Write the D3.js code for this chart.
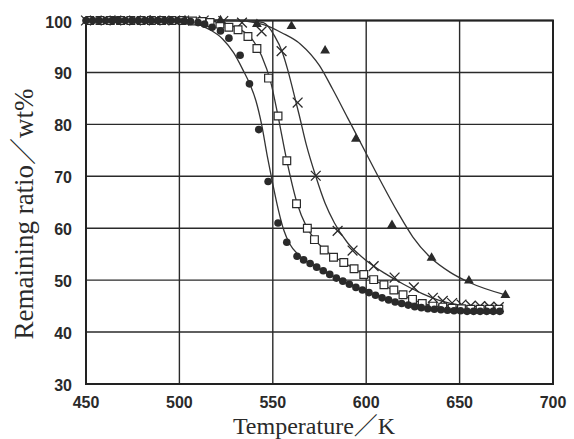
<!DOCTYPE html>
<html>
<head>
<meta charset="utf-8">
<script src="https://cdn.jsdelivr.net/npm/d3@7"></script>
<style>
  body { margin: 0; background: #fff; }
  .grid-line { stroke: #2a2a2a; stroke-width: 1.4; }
  .frame { fill: none; stroke: #222; stroke-width: 2; }
  .tick-label { font-family: "Liberation Sans", Arial, sans-serif; font-size: 16px; font-weight: bold; fill: #2a2a2a; }
  .title { font-family: "Liberation Serif", "Times New Roman", "Noto Sans CJK JP", serif; font-size: 27px; fill: #2a2a2a; }
  .curve { fill: none; stroke: #333; stroke-width: 1.3; }
</style>
</head>
<body>
<div class="app"></div>
<script>
'use strict'

var width = 574;
var height = 439;

// tick labels
var xTicks = [450, 500, 550, 600, 650, 700];
var yTicks = [30, 40, 50, 60, 70, 80, 90, 100];

// measured points (temperature K, remaining wt%)
var circleT = [450, 453.5, 457, 460.5, 464, 467.5, 471, 474.5, 478, 481.5, 485, 488.5, 492, 495.5, 499, 502.5, 506, 510, 513.5,
  517.5, 522, 526.5, 532.5, 537.5, 542.5, 547.5, 552.8, 557.5, 563,
  566.5, 570, 573.5, 577, 580.5, 584, 587.5, 591, 594.5, 598, 601.5, 605, 608.5, 612, 615.5, 619, 622.5, 626, 629.5,
  633, 636.5, 640, 643.5, 647, 650.5, 654, 657.5, 661, 664.5, 668, 671.5];
var circleV = [100, 100, 100, 100, 100, 100, 100, 100, 100, 100, 100, 100, 100, 100, 100, 99.9, 99.8, 99.6, 99.3,
  98.7, 98.0, 96.6, 93.3, 87.8, 79.0, 69.0, 61.0, 57.3, 54.6,
  53.9, 53.2, 52.5, 51.8, 51.1, 50.4, 49.8, 49.2, 48.6, 48.1, 47.6, 47.1, 46.6, 46.2, 45.8, 45.5, 45.2, 44.9, 44.7,
  44.5, 44.4, 44.3, 44.2, 44.1, 44.1, 44.0, 44.0, 44.0, 44.0, 44.0, 44.0];

var squareT = [452, 457.5, 463, 468.5, 474, 479.5, 485, 490.5, 496, 501.5, 507, 512,
  516.4, 521.7, 526.5, 531.4, 536.7, 541.5, 547.7, 552.8, 557.5, 562.7, 568.5, 572.3, 577.5, 582.5, 588, 593.5,
  598.7, 604, 609.5, 614.8, 619.7, 624.8, 630, 635.7, 641, 646, 651, 656, 661, 666, 671];
var squareV = [100, 100, 100, 100, 100, 100, 100, 100, 100, 100, 99.9, 99.8,
  99.6, 99.3, 98.7, 98.2, 96.9, 94.6, 88.9, 81.6, 73.0, 64.7, 60.0, 57.8, 55.8, 54.4, 53.4, 52.2,
  51.1, 50.1, 49.1, 48.1, 47.2, 46.3, 45.5, 45.0, 44.8, 44.6, 44.5, 44.4, 44.4, 44.4, 44.4];

var crossT = [450, 460.5, 471, 481.5, 492, 502.5, 513, 523.5, 533.5, 544, 554.7, 563.3, 573, 584.7, 592.7, 604,
  615.2, 625.5, 635.7, 641, 646, 651, 656, 661, 666, 671];
var crossV = [100, 100, 100, 100, 100, 100, 100, 99.9, 99.6, 97.9, 94.1, 84.2, 70.1, 59.5, 55.7, 52.7,
  50.5, 48.6, 46.6, 46.0, 45.6, 45.3, 45.1, 45.0, 44.9, 44.8];

var triangleT = [465.5, 484.5, 503, 522, 541.5, 560, 578, 594.5, 613.8, 635, 655, 674.5];
var triangleV = [100, 100, 100, 100, 99.3, 98.9, 94.2, 77.2, 60.6, 54.3, 49.9, 47.1];

// fitted curves
var circleCurveT = [450, 498, 508, 516, 523, 529, 534, 538, 541, 544, 547, 550, 553, 556, 559, 564, 572, 582, 593, 604, 614, 625, 636, 646, 673];
var circleCurveV = [100, 100, 99.5, 98.3, 96.5, 93.8, 90.5, 87.5, 84.5, 80, 74, 68.5, 63.5, 59.5, 57, 54.8, 52.8, 50.8, 48.9, 47.2, 46, 45.1, 44.5, 44.2, 44.1];

var squareCurveT = [450, 515, 525, 532, 538, 544, 549, 552.8, 557.5, 563, 568, 573, 580, 588, 598, 608, 618, 628, 638, 648, 660, 673];
var squareCurveV = [100, 100, 99.3, 98.4, 96.8, 93.2, 88, 81.6, 73, 64.8, 60.3, 57.6, 55.2, 53.4, 51.3, 49.3, 47.4, 45.8, 44.9, 44.5, 44.4, 44.3];

var crossCurveT = [450, 535, 545, 551, 555, 558, 561, 564, 568, 573, 578, 583, 590, 600, 610, 620, 630, 640, 650, 660, 673];
var crossCurveV = [100, 100, 99.6, 97, 94, 90.5, 86.3, 82, 76, 70, 64.8, 61, 57.2, 53.8, 51.3, 49.2, 47.4, 46, 45.2, 44.9, 44.7];

var triangleCurveT = [450, 530, 545, 555, 565, 575, 582, 590, 600, 608, 617, 625, 634, 645, 655, 675];
var triangleCurveV = [100, 100, 99.2, 97.6, 95.4, 91.3, 86.8, 81.3, 74.4, 68.9, 63, 58.3, 54.5, 51.5, 49.6, 47.1];

var margin = {left: 86, right: 21, top: 20.5, bottom: 55};

var svg = d3.select(".app")
  .append("svg")
  .attr("width", width)
  .attr("height", height);

var scaleX = d3.scaleLinear()
  .domain([450, 700])
  .range([margin.left, width - margin.right]);

var scaleY = d3.scaleLinear()
  .domain([30, 100])
  .range([height - margin.bottom, margin.top]);

// сетка
svg.append("g")
  .selectAll("line.v")
  .data(xTicks)
  .enter().append("line")
  .attr("class", "grid-line")
  .attr("x1", function(d) { return scaleX(d); })
  .attr("x2", function(d) { return scaleX(d); })
  .attr("y1", scaleY(30))
  .attr("y2", scaleY(100));

svg.append("g")
  .selectAll("line.h")
  .data(yTicks)
  .enter().append("line")
  .attr("class", "grid-line")
  .attr("x1", scaleX(450))
  .attr("x2", scaleX(700))
  .attr("y1", function(d) { return scaleY(d); })
  .attr("y2", function(d) { return scaleY(d); });

svg.append("rect")
  .attr("class", "frame")
  .attr("x", scaleX(450))
  .attr("y", scaleY(100))
  .attr("width", scaleX(700) - scaleX(450))
  .attr("height", scaleY(30) - scaleY(100));

// подписи делений
svg.append("g")
  .selectAll("text")
  .data(xTicks)
  .enter().append("text")
  .attr("class", "tick-label")
  .attr("x", function(d) { return scaleX(d); })
  .attr("y", scaleY(30) + 24)
  .attr("text-anchor", "middle")
  .text(function(d) { return d; });

svg.append("g")
  .selectAll("text")
  .data(yTicks)
  .enter().append("text")
  .attr("class", "tick-label")
  .attr("x", scaleX(450) - 14)
  .attr("y", function(d) { return scaleY(d) + 7; })
  .attr("text-anchor", "end")
  .text(function(d) { return d; });

// кривые
var line = d3.line()
  .curve(d3.curveMonotoneX)
  .x(function(d) { return scaleX(d[0]); })
  .y(function(d) { return scaleY(d[1]); });

function pairs(ts, vs) {
  return ts.map(function(t, i) { return [t, vs[i]]; });
}

var g = svg.append("g");
[[circleCurveT, circleCurveV], [squareCurveT, squareCurveV], [crossCurveT, crossCurveV], [triangleCurveT, triangleCurveV]]
  .forEach(function(c) {
    g.append("path")
      .attr("class", "curve")
      .attr("d", line(pairs(c[0], c[1])));
  });

// маркеры
function drawMarkers(ts, vs, type, size, fill, stroke, sw) {
  g.append("g")
    .selectAll("path")
    .data(pairs(ts, vs))
    .enter().append("path")
    .attr("transform", function(d) { return "translate(" + scaleX(d[0]) + "," + scaleY(d[1]) + ")"; })
    .attr("d", d3.symbol().type(type).size(size))
    .attr("fill", fill)
    .attr("stroke", stroke)
    .attr("stroke-width", sw);
}

drawMarkers(crossT, crossV, d3.symbolTimes, 64, "none", "#2a2a2a", 1.3);
drawMarkers(squareT, squareV, d3.symbolSquare, 60, "#fff", "#2a2a2a", 1.2);
drawMarkers(circleT, circleV, d3.symbolCircle, 46, "#2a2a2a", "none", 0);
drawMarkers(triangleT, triangleV, d3.symbolTriangle, 42, "#2a2a2a", "none", 0);

// подписи осей
svg.append("text")
  .attr("class", "title")
  .attr("transform", "translate(33," + 214 + ") rotate(-90)")
  .attr("text-anchor", "middle")
  .text("Remaining ratio／wt%");

svg.append("text")
  .attr("class", "title")
  .style("font-size", "24px")
  .attr("x", 314)
  .attr("y", 434)
  .attr("text-anchor", "middle")
  .text("Temperature／K");
</script>
</body>
</html>
